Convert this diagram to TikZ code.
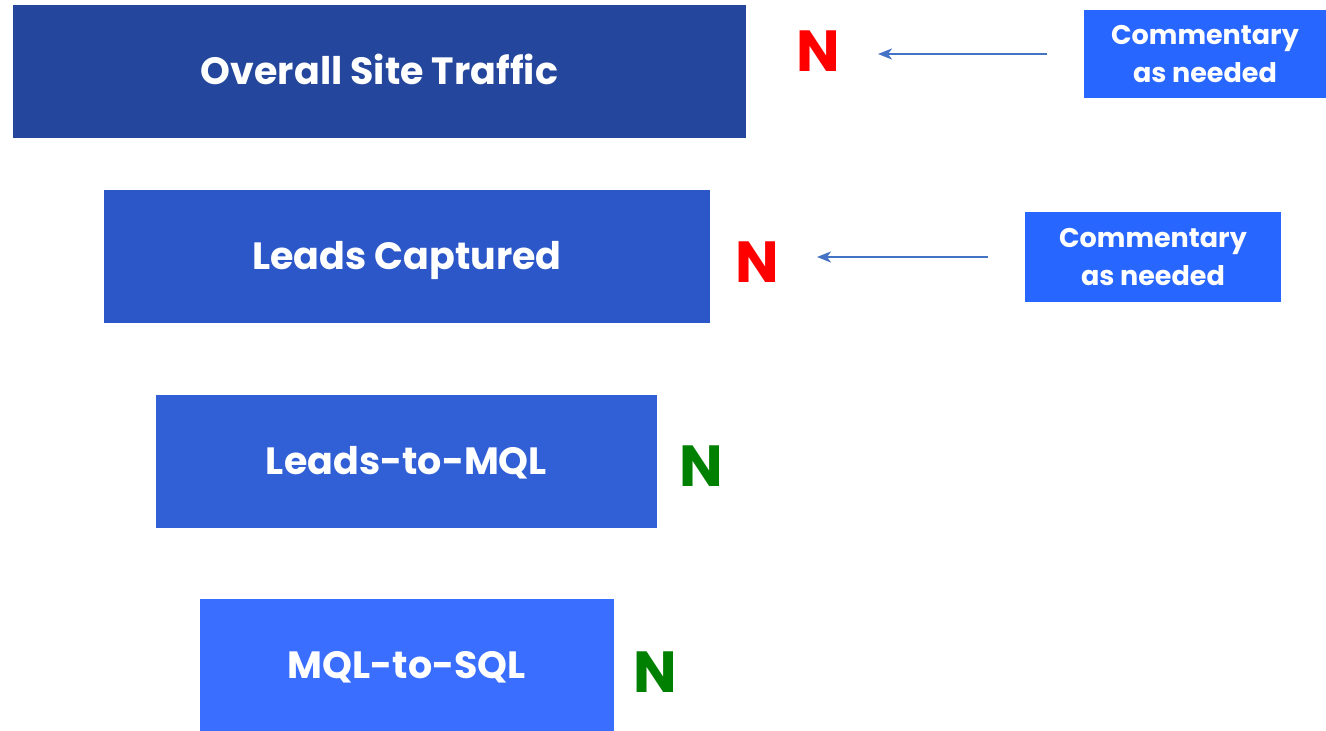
\documentclass[tikz,border=0pt]{standalone}
\usepackage{fontspec}
\setmainfont{Poppins}
\usetikzlibrary{arrows.meta}
\definecolor{stageA}{HTML}{24469C}
\definecolor{stageB}{HTML}{2C57C8}
\definecolor{stageC}{HTML}{305FD6}
\definecolor{stageD}{HTML}{3A6EFF}
\definecolor{notefill}{HTML}{2766FF}
\definecolor{notearrow}{HTML}{4472C4}
\definecolor{flagred}{HTML}{FF0000}
\definecolor{flaggreen}{HTML}{008000}
\tikzset{
	stage/.style={shape=rectangle, inner sep=0pt, text=white, text height=26.6pt, text depth=0pt, font=\fontsize{38}{44}\selectfont\bfseries},
	note/.style={shape=rectangle, fill=notefill, inner sep=0pt, text=white, align=center, font=\fontsize{27}{38}\selectfont\bfseries},
	flag/.style={inner sep=0pt, text height=40.6pt, text depth=0pt, font=\fontsize{58}{60}\selectfont\bfseries},
	notelink/.style={draw=notearrow, line width=2pt, -{Stealth[length=14pt, width=11pt, inset=4pt]}, shorten <=37pt, shorten >=38pt}
}
\begin{document}
\begin{tikzpicture}[x=1pt, y=-1pt]
	\useasboundingbox (0, 0) rectangle (1326, 731);
	% Funnel stages:
	\node[stage, fill=stageA, minimum width=733pt, minimum height=133pt] (traffic) at (379.5, 71.5){Overall Site Traffic};
	\node[stage, fill=stageB, minimum width=606pt, minimum height=133pt] (leads) at (407, 256.5){Leads Captured};
	\node[stage, fill=stageC, minimum width=501pt, minimum height=133pt] (mql) at (406.5, 461.5){Leads-to-MQL};
	\node[stage, fill=stageD, minimum width=414pt, minimum height=132pt] (sql) at (407, 665){MQL-to-SQL};
	% Status flags:
	\node[flag, text=flagred] (flagA) at (818, 51){N};
	\node[flag, text=flagred] (flagB) at (757, 262){N};
	\node[flag, text=flaggreen] (flagC) at (701, 466){N};
	\node[flag, text=flaggreen] (flagD) at (655, 672){N};
	% Commentary boxes and arrows:
	\node[note, minimum width=242pt, minimum height=88pt] (noteA) at (1205, 54){Commentary\\as needed};
	\node[note, minimum width=256pt, minimum height=90pt] (noteB) at (1153, 257){Commentary\\as needed};
	\draw[notelink] (noteA.west) -- (flagA.east |- noteA.west);
	\draw[notelink] (noteB.west) -- (flagB.east |- noteB.west);
\end{tikzpicture}
\end{document}
